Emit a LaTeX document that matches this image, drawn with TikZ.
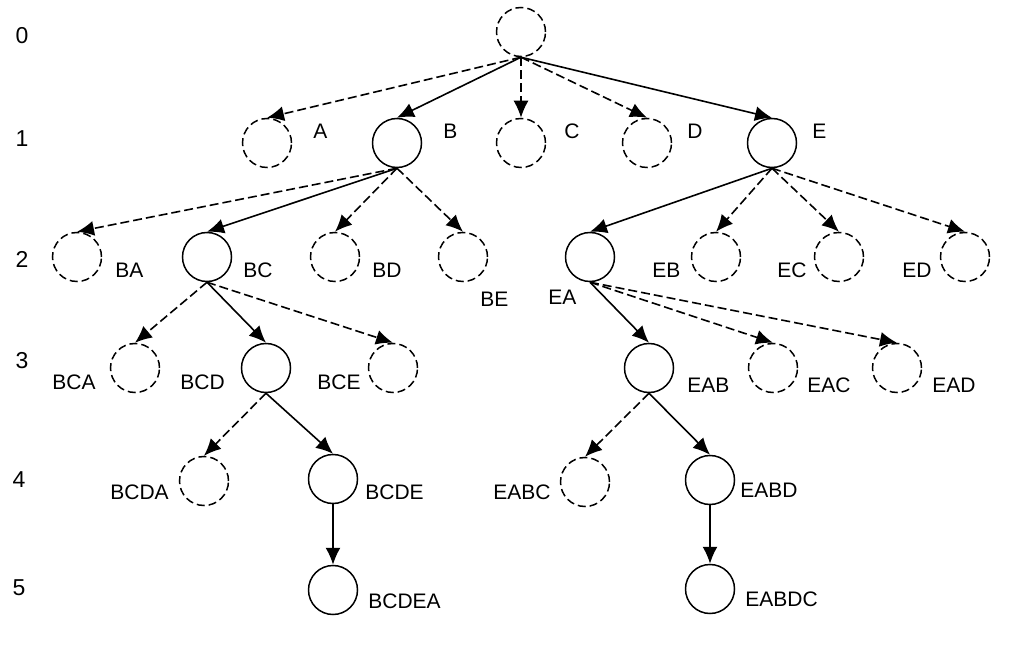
\documentclass[tikz,border=0pt]{standalone}
\usepackage{fontspec}
\setmainfont{Liberation Sans}
\usetikzlibrary{arrows.meta}
\begin{document}
\begin{tikzpicture}[x=0.5pt,y=-0.5pt,
  nd/.style={circle,draw,line width=0.75pt,minimum size=24.5pt,inner sep=0pt},
  dnd/.style={nd,dash pattern=on 4pt off 2pt},
  tedge/.style={line width=0.8pt,-{Latex[length=8.5pt,width=7.5pt]}},
  dedge/.style={tedge,dash pattern=on 4.5pt off 2pt},
  lbl/.style={anchor=west,inner sep=0pt,font=\fontsize{10.5}{12}\selectfont},
  lvl/.style={inner sep=0pt,font=\fontsize{11.5}{13}\selectfont}]
\useasboundingbox (0,0) rectangle (1022,646);
% level numbers
\node[lvl] (l0) at (22,36) {0};
\node[lvl] (l1) at (22,139) {1};
\node[lvl] (l2) at (22,259) {2};
\node[lvl] (l3) at (22,361) {3};
\node[lvl] (l4) at (19,480) {4};
\node[lvl] (l5) at (19,588) {5};
% nodes
\node[dnd] (r) at (521,32) {};
\node[dnd] (A) at (267,143) {};
\node[nd]  (B) at (397,143) {};
\node[dnd] (C) at (521,143) {};
\node[dnd] (D) at (647,143) {};
\node[nd]  (E) at (772,143) {};
\node[dnd] (BA) at (77,257) {};
\node[nd]  (BC) at (207,257) {};
\node[dnd] (BD) at (335,257) {};
\node[dnd] (BE) at (463,257) {};
\node[nd]  (EA) at (590,257) {};
\node[dnd] (EB) at (716,257) {};
\node[dnd] (EC) at (839,257) {};
\node[dnd] (ED) at (965,257) {};
\node[dnd] (BCA) at (135,368) {};
\node[nd]  (BCD) at (266,368) {};
\node[dnd] (BCE) at (393,368) {};
\node[nd]  (EAB) at (649,368) {};
\node[dnd] (EAC) at (773,368) {};
\node[dnd] (EAD) at (897,368) {};
\node[dnd] (BCDA) at (204,481) {};
\node[nd]  (BCDE) at (333,479) {};
\node[dnd] (EABC) at (585,482) {};
\node[nd]  (EABD) at (710,480) {};
\node[nd]  (BCDEA) at (333,590) {};
\node[nd]  (EABDC) at (710,589) {};
% labels
\node[lbl] (tA) at (313,131) {A};
\node[lbl] (tB) at (443,131) {B};
\node[lbl] (tC) at (564,131) {C};
\node[lbl] (tD) at (687,131) {D};
\node[lbl] (tE) at (812,131) {E};
\node[lbl] (tBA) at (115,270) {BA};
\node[lbl] (tBC) at (243,270) {BC};
\node[lbl] (tBD) at (372,270) {BD};
\node[lbl] (tBE) at (480,299) {BE};
\node[lbl] (tEA) at (548,297) {EA};
\node[lbl] (tEB) at (652,270) {EB};
\node[lbl] (tEC) at (777,270) {EC};
\node[lbl] (tED) at (902,270) {ED};
\node[lbl] (tBCA) at (52,382) {BCA};
\node[lbl] (tBCD) at (180,382) {BCD};
\node[lbl] (tBCE) at (317,382) {BCE};
\node[lbl] (tEAB) at (687,385) {EAB};
\node[lbl] (tEAC) at (807,385) {EAC};
\node[lbl] (tEAD) at (932,385) {EAD};
\node[lbl] (tBCDA) at (110,492) {BCDA};
\node[lbl] (tBCDE) at (365,492) {BCDE};
\node[lbl] (tEABC) at (493,492) {EABC};
\node[lbl] (tEABD) at (740,490) {EABD};
\node[lbl] (tBCDEA) at (368,601) {BCDEA};
\node[lbl] (tEABDC) at (745,599) {EABDC};
% edges
\draw[dedge] (r.south) -- (A.north);
\draw[tedge] (r.south) -- (B.north);
\draw[dedge] (r.south) -- (C.north);
\draw[dedge] (r.south) -- (D.north);
\draw[tedge] (r.south) -- (E.north);
\draw[dedge] (B.south) -- (BA.north);
\draw[tedge] (B.south) -- (BC.north);
\draw[dedge] (B.south) -- (BD.north);
\draw[dedge] (B.south) -- (BE.north);
\draw[tedge] (E.south) -- (EA.north);
\draw[dedge] (E.south) -- (EB.north);
\draw[dedge] (E.south) -- (EC.north);
\draw[dedge] (E.south) -- (ED.north);
\draw[dedge] (BC.south) -- (BCA.north);
\draw[tedge] (BC.south) -- (BCD.north);
\draw[dedge] (BC.south) -- (BCE.north);
\draw[tedge] (EA.south) -- (EAB.north);
\draw[dedge] (EA.south) -- (EAC.north);
\draw[dedge] (EA.south) -- (EAD.north);
\draw[dedge] (BCD.south) -- (BCDA.north);
\draw[tedge] (BCD.south) -- (BCDE.north);
\draw[dedge] (EAB.south) -- (EABC.north);
\draw[tedge] (EAB.south) -- (EABD.north);
\draw[tedge] (BCDE.south) -- (BCDEA.north);
\draw[tedge] (EABD.south) -- (EABDC.north);
\end{tikzpicture}
\end{document}
